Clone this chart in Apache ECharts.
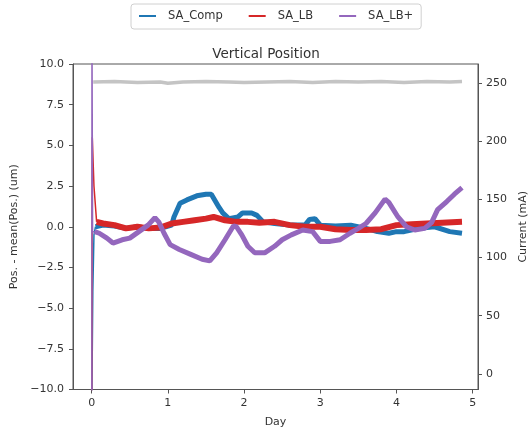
<!DOCTYPE html>
<html><head><meta charset="utf-8">
<script src="https://cdn.jsdelivr.net/npm/echarts@6/dist/echarts.min.js"></script>
<style>html,body{margin:0;padding:0;background:#fff}#c{width:532px;height:428px}</style>
</head><body><div id="c"></div>
<script>
// SA_Comp (blue): initial transient, then steady part
const compStartDays = [0, 0.015, 0.03, 0.05];
const compStartPos  = [-12, -4, -0.5, 0.0];
const compDays = [0.05, 0.15, 0.3, 0.45, 0.6, 0.75, 0.9, 1.05, 1.08, 1.16, 1.25, 1.38, 1.5, 1.57, 1.62, 1.67, 1.72, 1.8, 1.92, 1.98, 2.1, 2.17, 2.25, 2.4, 2.6, 2.8, 2.86, 2.93, 3.0, 3.2, 3.4, 3.6, 3.75, 3.9, 4.0, 4.1, 4.3, 4.5, 4.7, 4.86];
const compPos  = [0.0, 0.1, 0.05, -0.1, 0.0, -0.1, -0.1, 0.1, 0.6, 1.45, 1.65, 1.9, 2.0, 2.0, 1.6, 1.2, 0.85, 0.5, 0.6, 0.85, 0.85, 0.7, 0.3, 0.2, 0.1, 0.1, 0.45, 0.5, 0.1, 0.05, 0.1, -0.1, -0.3, -0.4, -0.3, -0.3, -0.1, 0.0, -0.3, -0.4];
// SA_LB (red)
const lbStartDays = [0, 0.008, 0.03, 0.065];
const lbStartPos  = [-12, 5.5, 2.5, 0.3];
const lbDays = [0.065, 0.15, 0.3, 0.45, 0.6, 0.75, 0.9, 1.05, 1.2, 1.35, 1.5, 1.6, 1.75, 1.9, 2.05, 2.2, 2.4, 2.6, 2.8, 3.0, 3.2, 3.4, 3.6, 3.8, 4.0, 4.2, 4.4, 4.6, 4.86];
const lbPos  = [0.3, 0.2, 0.1, -0.1, 0.0, -0.1, -0.05, 0.2, 0.3, 0.4, 0.5, 0.6, 0.4, 0.3, 0.3, 0.25, 0.3, 0.1, 0.0, 0.0, -0.15, -0.2, -0.2, -0.15, 0.1, 0.15, 0.2, 0.25, 0.3];
// SA_LB+ (purple)
const lbpStartDays = [0.002, 0.004, 0.012, 0.04];
const lbpStartPos  = [-12, 12, -0.3, -0.3];
const lbpDays = [0.04, 0.1, 0.2, 0.28, 0.4, 0.5, 0.62, 0.74, 0.83, 0.88, 0.95, 1.03, 1.15, 1.3, 1.45, 1.55, 1.64, 1.75, 1.86, 1.9, 1.97, 2.05, 2.14, 2.27, 2.4, 2.5, 2.62, 2.77, 2.9, 3.0, 3.13, 3.26, 3.39, 3.5, 3.6, 3.72, 3.85, 3.9, 4.02, 4.13, 4.24, 4.37, 4.46, 4.54, 4.66, 4.76, 4.86];
const lbpPos  = [-0.3, -0.4, -0.7, -1.0, -0.8, -0.7, -0.3, 0.1, 0.55, 0.3, -0.4, -1.1, -1.4, -1.7, -2.0, -2.1, -1.6, -0.8, 0.05, 0.0, -0.5, -1.2, -1.6, -1.6, -1.2, -0.8, -0.5, -0.2, -0.3, -0.9, -0.9, -0.8, -0.4, -0.1, 0.2, 0.85, 1.7, 1.5, 0.6, 0.0, -0.2, -0.1, 0.25, 1.05, 1.55, 2.0, 2.4];
// Current (grey, right axis)
const curDays = [0.02, 0.3, 0.6, 0.9, 1.0, 1.2, 1.5, 1.8, 2.0, 2.3, 2.6, 2.9, 3.2, 3.5, 3.8, 4.1, 4.4, 4.7, 4.86];
const curVals = [251, 251.5, 250.5, 251, 250, 251, 251.5, 251, 250.5, 251, 251.5, 250.5, 251.5, 251, 251.5, 250.5, 251.5, 251, 251.5];

const xTicks = [0, 1, 2, 3, 4, 5];
const rightTicks = [0, 50, 100, 150, 200, 250];

const pairs = (xs, ys) => xs.map((x, i) => [x, ys[i]]);
const FONT = 'DejaVu Sans';
const TXT = '#333';
const AX = '#555';
const C_BLUE = '#1f77b4', C_RED = '#d62728', C_PURPLE = '#9467bd', C_GREY = '#c4c4c4';

function line(name, data, color, width, z, yAxisIndex) {
  return {name, type: 'line', data, yAxisIndex: yAxisIndex || 0, showSymbol: false, symbol: 'none',
    lineStyle: {color, width}, itemStyle: {color}, z, silent: true};
}

const chart = echarts.init(document.getElementById('c'), null, {renderer: 'canvas'});
chart.setOption({
  animation: false,
  backgroundColor: '#fff',
  textStyle: {fontFamily: FONT},
  title: {
    text: 'Vertical Position', left: 'center', top: 42,
    textStyle: {fontFamily: FONT, fontSize: 13.5, fontWeight: 'normal', color: TXT}
  },
  legend: {
    top: 4, left: 131,
    data: [
      {name: 'SA_Comp', icon: 'rect'},
      {name: 'SA_LB', icon: 'rect'},
      {name: 'SA_LB+', icon: 'rect'}
    ],
    itemWidth: 17, itemHeight: 2, itemGap: 26,
    borderColor: '#d0d0d0', borderWidth: 1, borderRadius: 3,
    padding: [6, 8, 7, 8],
    textStyle: {fontFamily: FONT, fontSize: 11.5, color: TXT, padding: [0, 0, 0, 7]}
  },
  grid: {left: 73, right: 54, top: 64, bottom: 38.5, outerBoundsMode: 'none', containLabel: false,
    show: true, borderColor: AX, borderWidth: 1, backgroundColor: 'transparent'},
  xAxis: {
    type: 'value', min: -0.245, max: 5.07,
    name: 'Day', nameLocation: 'middle', nameGap: 27,
    nameTextStyle: {fontFamily: FONT, fontSize: 11, color: TXT},
    axisLine: {show: true, onZero: false, lineStyle: {color: AX}},
    axisTick: {show: true, length: 4, customValues: xTicks, lineStyle: {color: AX}},
    axisLabel: {customValues: xTicks, margin: 8, fontFamily: FONT, fontSize: 11, color: TXT},
    splitLine: {show: false}
  },
  yAxis: [{
    type: 'value', min: -10, max: 10, interval: 2.5,
    name: 'Pos. - mean(Pos.) (um)', nameLocation: 'middle', nameGap: 51, nameRotate: 90,
    nameTextStyle: {fontFamily: FONT, fontSize: 11, color: TXT},
    axisLine: {show: true, onZero: false, lineStyle: {color: AX}},
    axisTick: {show: true, length: 4, lineStyle: {color: AX}},
    axisLabel: {margin: 9, fontFamily: FONT, fontSize: 11, color: TXT,
      formatter: v => (v < 0 ? '\u2212' : '') + Math.abs(v).toFixed(1)},
    splitLine: {show: false}
  }, {
    type: 'value', min: -13.5, max: 266.5, position: 'right',
    name: 'Current (mA)', nameLocation: 'middle', nameGap: 34, nameRotate: 90,
    nameTextStyle: {fontFamily: FONT, fontSize: 11, color: TXT},
    axisLine: {show: true, onZero: false, lineStyle: {color: AX}},
    axisTick: {show: true, length: 4, customValues: rightTicks, lineStyle: {color: AX}},
    axisLabel: {customValues: rightTicks, margin: 8, fontFamily: FONT, fontSize: 11, color: TXT},
    splitLine: {show: false}
  }],
  series: [
    line('Current', pairs(curDays, curVals), C_GREY, 3.5, 1, 1),
    line('SA_Comp', pairs(compDays, compPos), C_BLUE, 5, 2),
    line('SA_Comp', pairs(compStartDays, compStartPos), C_BLUE, 1.5, 2),
    line('SA_LB', pairs(lbDays, lbPos), C_RED, 6, 3),
    line('SA_LB', pairs(lbStartDays, lbStartPos), C_RED, 1.5, 3),
    line('SA_LB+', pairs(lbpDays, lbpPos), C_PURPLE, 5, 4),
    line('SA_LB+', pairs(lbpStartDays, lbpStartPos), C_PURPLE, 1.5, 4)
  ]
});
</script>
</body></html>
